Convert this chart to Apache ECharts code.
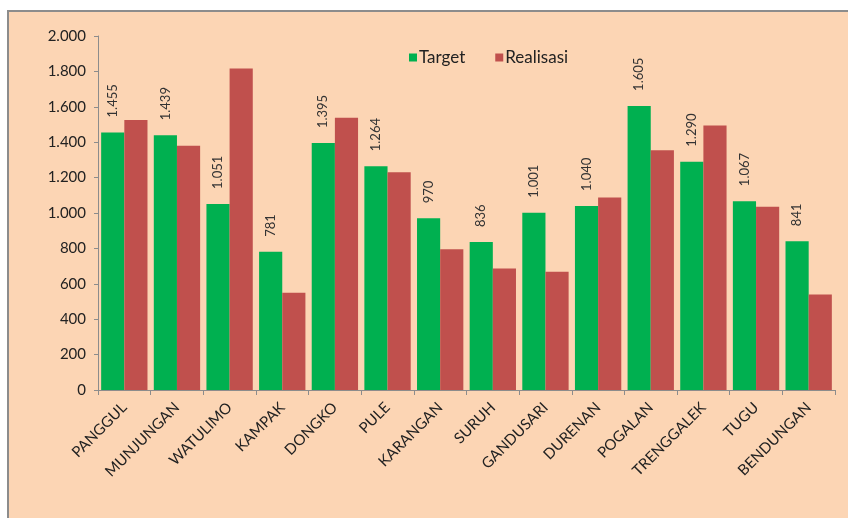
<!DOCTYPE html>
<html>
<head>
<meta charset="utf-8">
<script src="https://cdn.jsdelivr.net/npm/echarts@6/dist/echarts.min.js"></script>
<style>
  html, body { margin: 0; padding: 0; background: #fff; }
  .frame {
    position: absolute; left: 7px; top: 10px; width: 841px; height: 508px;
    background: #FCD5B4;
    border-top: 2px solid #8c8c8c;
    border-left: 2px solid #8c8c8c;
    box-sizing: border-box;
  }
  #chart { position: absolute; left: 0; top: 0; width: 848px; height: 518px; }
</style>
</head>
<body>
<div class="frame"></div>
<div id="chart"></div>
<script>
const categories = ['PANGGUL', 'MUNJUNGAN', 'WATULIMO', 'KAMPAK', 'DONGKO', 'PULE', 'KARANGAN',
  'SURUH', 'GANDUSARI', 'DURENAN', 'POGALAN', 'TRENGGALEK', 'TUGU', 'BENDUNGAN']
const target = [1455, 1439, 1051, 781, 1395, 1264, 970, 836, 1001, 1040, 1605, 1290, 1067, 841]
const realisasi = [1525, 1380, 1817, 550, 1538, 1230, 795, 687, 668, 1088, 1354, 1495, 1036, 540]

const fmt = (v) => String(v).replace(/\B(?=(\d{3})+(?!\d))/g, '.')
const font = 'Lato, "Open Sans", sans-serif'

const chart = echarts.init(document.getElementById('chart'))
chart.setOption({
  animation: false,
  textStyle: { fontFamily: font },
  grid: { left: 98, right: 13, top: 36, bottom: 128, containLabel: false },
  legend: {
    top: 44,
    left: 404,
    icon: 'rect',
    itemWidth: 8,
    itemHeight: 8,
    itemGap: 30,
    textStyle: { fontSize: 17, color: '#222', fontFamily: font, padding: [0, 0, 0, -3] }
  },
  xAxis: {
    type: 'category',
    data: categories,
    axisLine: { lineStyle: { color: '#8c8c8c' } },
    axisTick: { show: true, length: 5, lineStyle: { color: '#8c8c8c' } },
    axisLabel: { rotate: 45, fontSize: 15, color: '#222', margin: 15, interval: 0 }
  },
  yAxis: {
    type: 'value',
    min: 0,
    max: 2000,
    interval: 200,
    axisLine: { show: true, lineStyle: { color: '#8c8c8c' } },
    axisTick: { show: true, length: 4, lineStyle: { color: '#8c8c8c' } },
    splitLine: { show: false },
    axisLabel: { fontSize: 15, color: '#222', margin: 12, formatter: fmt }
  },
  series: [
    {
      name: 'Target',
      type: 'bar',
      data: target,
      barGap: '0%',
      barCategoryGap: '12%',
      itemStyle: { color: '#00B050' },
      label: {
        show: true,
        position: 'top',
        rotate: 90,
        align: 'left',
        verticalAlign: 'middle',
        distance: 15,
        fontSize: 13,
        color: '#333',
        formatter: (p) => fmt(p.value)
      }
    },
    {
      name: 'Realisasi',
      type: 'bar',
      data: realisasi,
      itemStyle: { color: '#C0504D' }
    }
  ]
})
</script>
</body>
</html>
